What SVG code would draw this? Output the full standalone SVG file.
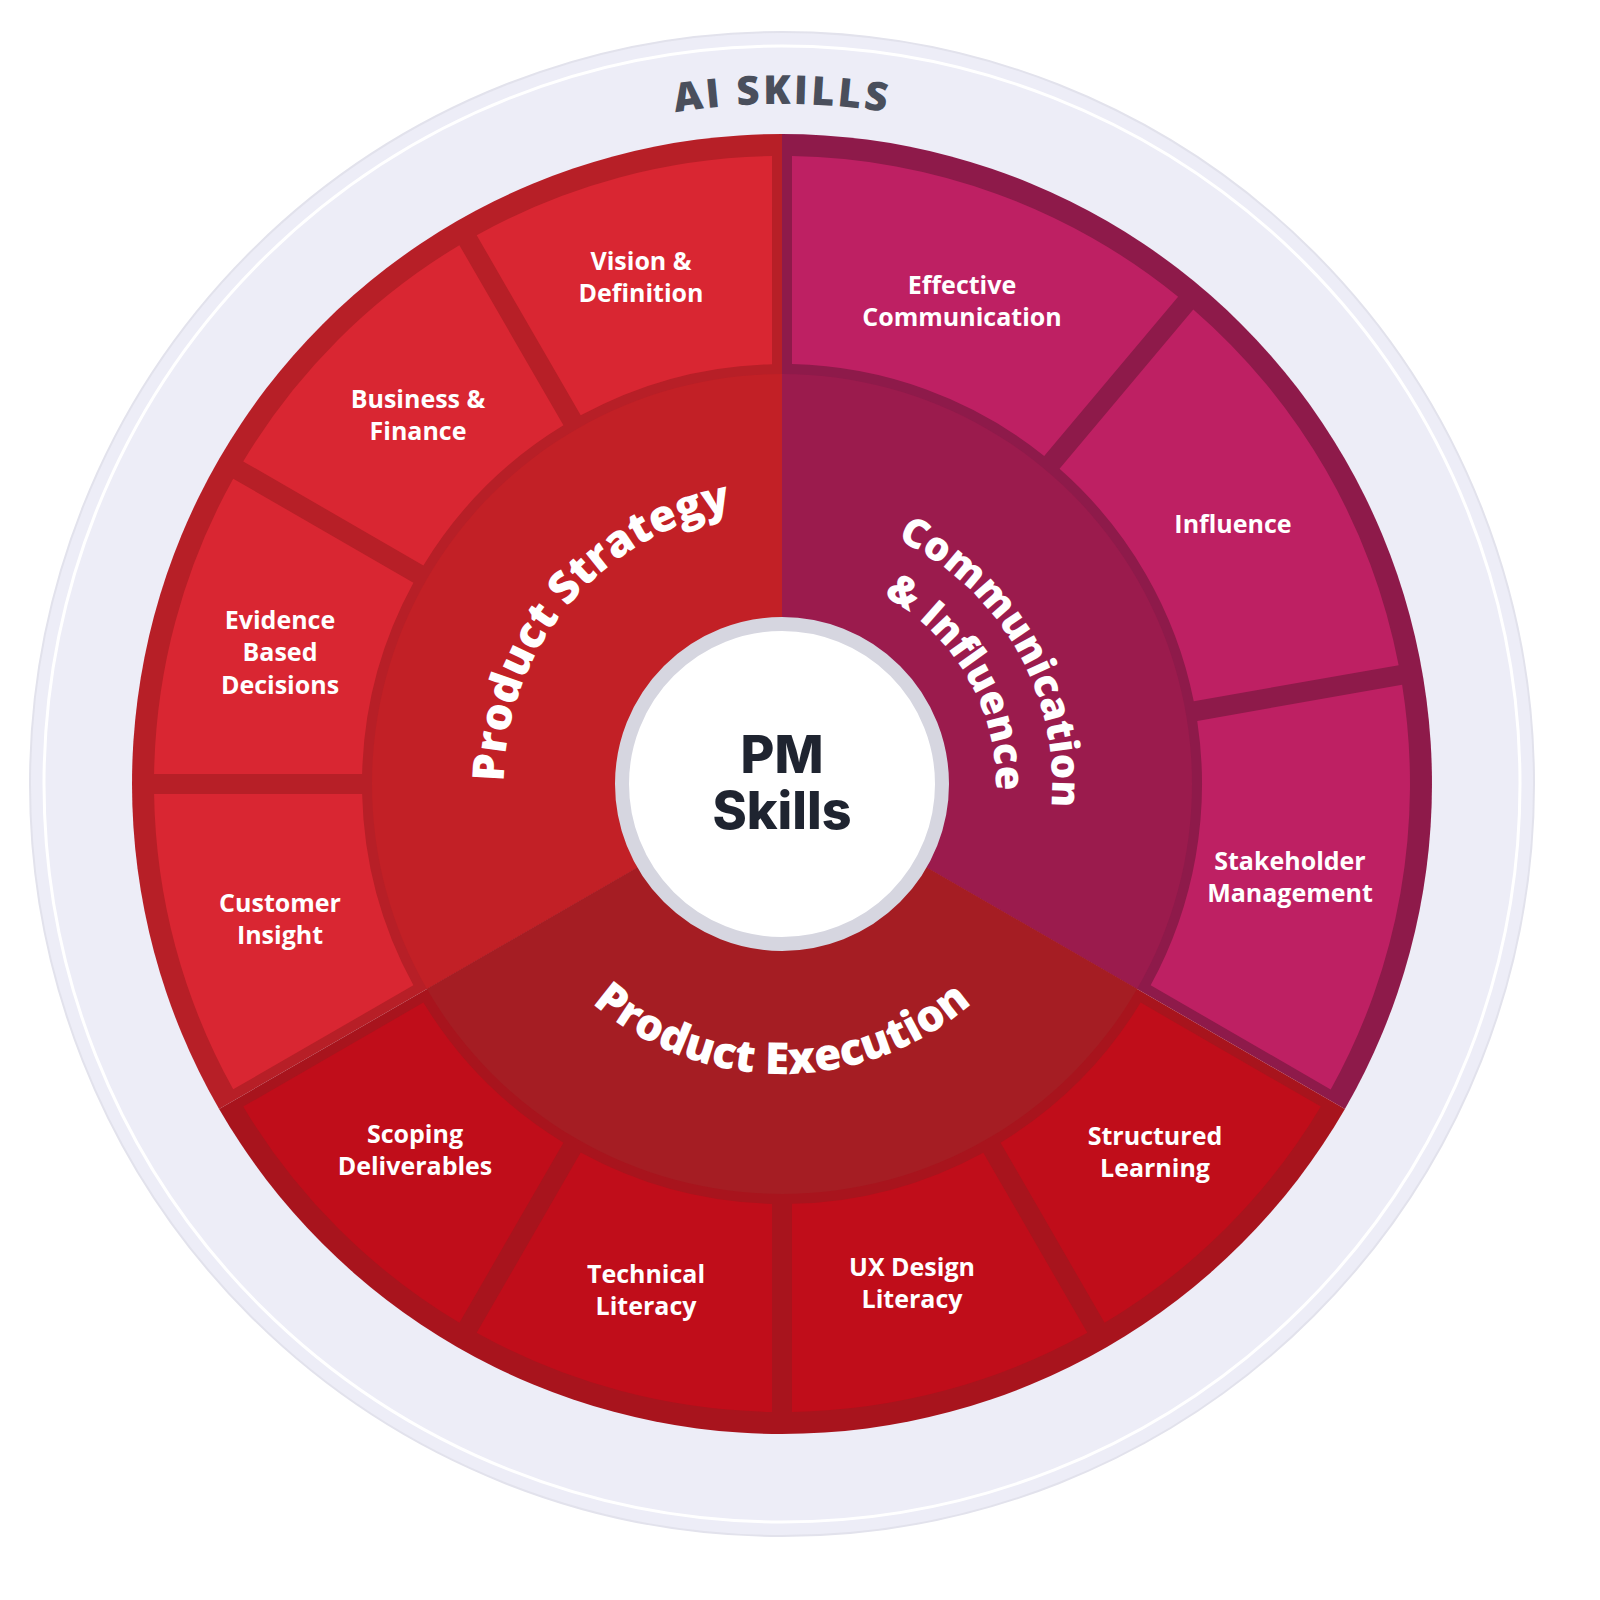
<svg xmlns="http://www.w3.org/2000/svg" width="1600" height="1600" viewBox="0 0 1600 1600">
<style>
.t{font-family:"Open Sans","Liberation Sans",sans-serif;font-weight:700;font-size:25px;fill:#fff;text-anchor:middle;dominant-baseline:central}
.big{font-family:"Open Sans","Liberation Sans",sans-serif;font-weight:800;font-size:44px;fill:#fff;text-anchor:middle}
.pm{font-family:"Inter","Liberation Sans",sans-serif;font-weight:800;font-size:52px;fill:#1F2430;text-anchor:middle}
</style>
<defs>
<path id="tile30" d="M419.88,10 L627.92,10 A628,628 0 0 1 548.8,305.3 L368.6,201.3 A420,420 0 0 0 419.88,10 Z"/>
<path id="tile40" d="M419.88,10 L627.92,10 A628,628 0 0 1 487.3,396.1 L328.1,262.2 A420,420 0 0 0 419.88,10 Z"/>
<path id="disc" d="M0,0 L650,0 A650,650 0 0 1 -325,562.9 Z"/>
<path id="core" d="M0,0 L410,0 A410,410 0 0 1 -205,355.07 Z"/>
<path id="pStrat" d="M569,962.7 A278,278 0 0 1 921,543.2"/>
<path id="pComm1" d="M689.7,530.2 A270,270 0 0 1 955.6,990.8"/>
<path id="pComm2" d="M708.8,583 A214,214 0 0 1 919.6,947.9"/>
<path id="pExec" d="M496.4,834.4 A290,290 0 0 0 1067.6,834.4"/>
<path id="pAI" d="M102,784 A680,680 0 0 1 1462,784"/>
</defs>
<rect width="1600" height="1600" fill="#fff"/>
<g id="ring">
<circle cx="782" cy="784" r="752" fill="#EDEDF7" stroke="#E2E2EC" stroke-width="2"/>
<circle cx="782" cy="784" r="738" fill="none" stroke="#fff" stroke-width="3"/>
<text class="big" style="fill:#4A4F5C;font-size:40px;letter-spacing:3px"><textPath href="#pAI" startOffset="50%">AI  SKILLS</textPath></text>
</g>
<g id="strategy" transform="translate(782 784)">
<use href="#disc" transform="rotate(150)" fill="#B71F27"/>
<use href="#core" transform="rotate(150)" fill="#C22026"/>
<use href="#tile30" transform="rotate(150)" fill="#D92632"/>
<use href="#tile30" transform="rotate(180)" fill="#D92632"/>
<use href="#tile30" transform="rotate(210)" fill="#D92632"/>
<use href="#tile30" transform="rotate(240)" fill="#D92632"/>
</g>
<g id="communication" transform="translate(782 784)">
<use href="#disc" transform="rotate(270)" fill="#8E1A4A"/>
<use href="#core" transform="rotate(270)" fill="#9B1B4D"/>
<use href="#tile40" transform="rotate(270)" fill="#BE2063"/>
<use href="#tile40" transform="rotate(310)" fill="#BE2063"/>
<use href="#tile40" transform="rotate(350)" fill="#BE2063"/>
</g>
<g id="execution" transform="translate(782 784)">
<use href="#disc" transform="rotate(30)" fill="#A8141D"/>
<use href="#core" transform="rotate(30)" fill="#A51D23"/>
<use href="#tile30" transform="rotate(30)" fill="#C00D1A"/>
<use href="#tile30" transform="rotate(60)" fill="#C00D1A"/>
<use href="#tile30" transform="rotate(90)" fill="#C00D1A"/>
<use href="#tile30" transform="rotate(120)" fill="#C00D1A"/>
</g>
<g id="center">
<circle cx="782" cy="784" r="160" fill="#fff" stroke="#D6D6E0" stroke-width="14"/>
<text class="pm" x="782" y="773">PM</text>
<text class="pm" x="782" y="829">Skills</text>
</g>
<g id="sector-labels">
<text class="big"><textPath href="#pStrat" startOffset="50%">Product Strategy</textPath></text>
<text class="big" style="font-size:40px"><textPath href="#pComm1" startOffset="50%">Communication</textPath></text>
<text class="big" style="font-size:40px"><textPath href="#pComm2" startOffset="50%">&amp; Influence</textPath></text>
<text class="big"><textPath href="#pExec" startOffset="50%">Product Execution</textPath></text>
</g>
<g id="tile-labels">
<text class="t" x="641" y="260">Vision &amp;</text><text class="t" x="641" y="292">Definition</text>
<text class="t" x="418" y="398">Business &amp;</text><text class="t" x="418" y="430">Finance</text>
<text class="t" x="280" y="619">Evidence</text><text class="t" x="280" y="651">Based</text><text class="t" x="280" y="684">Decisions</text>
<text class="t" x="280" y="902">Customer</text><text class="t" x="280" y="934">Insight</text>
<text class="t" x="962" y="284">Effective</text><text class="t" x="962" y="316">Communication</text>
<text class="t" x="1233" y="523">Influence</text>
<text class="t" x="1290" y="860">Stakeholder</text><text class="t" x="1290" y="892">Management</text>
<text class="t" x="1155" y="1135">Structured</text><text class="t" x="1155" y="1167">Learning</text>
<text class="t" x="912" y="1266">UX Design</text><text class="t" x="912" y="1298">Literacy</text>
<text class="t" x="646" y="1273">Technical</text><text class="t" x="646" y="1305">Literacy</text>
<text class="t" x="415" y="1133">Scoping</text><text class="t" x="415" y="1165">Deliverables</text>
</g>
</svg>
